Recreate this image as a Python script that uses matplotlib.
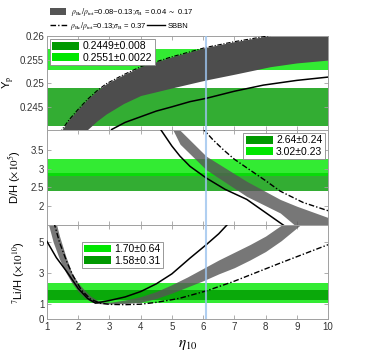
import matplotlib
matplotlib.use("Agg")
import matplotlib.pyplot as plt
from matplotlib.patches import Patch
from matplotlib.lines import Line2D

plt.rcParams['font.family'] = ['Liberation Sans', 'DejaVu Sans']
plt.rcParams['mathtext.fontset'] = 'stix'

# ---- data ----
eta_obs = 6.1

# Y_p panel
yp_sbbn_eta = [3.07, 3.5, 4.0, 4.5, 5.0, 5.58, 6.1, 7.0, 7.93, 9.0, 10.0]
yp_sbbn = [0.2402, 0.2417, 0.2429, 0.2441, 0.2450, 0.2461, 0.2468, 0.2483, 0.2496, 0.2506, 0.2513]
yp_band_eta = [1.4, 1.7, 2.0, 2.3, 2.6, 2.9, 3.45, 4.0, 5.0, 6.1, 7.0, 8.15, 9.0, 10.0]
yp_band_hi = [0.2394, 0.2422, 0.2445, 0.2466, 0.2484, 0.2499, 0.2518, 0.2535, 0.2556, 0.2576, 0.2588, 0.2601, 0.2610, 0.2618]
yp_band_lo = [0.2330, 0.2360, 0.2385, 0.2402, 0.2420, 0.2435, 0.2457, 0.2474, 0.2490, 0.2507, 0.2519, 0.2535, 0.2543, 0.2549]
yp_obs = [(0.2449, 0.0040, '0.2449±0.008', 'dark'), (0.2551, 0.0022, '0.2551±0.0022', 'light')]

# D/H panel
dh_sbbn_eta = [4.55, 5.0, 5.26, 5.58, 6.1, 6.7, 7.4, 8.0, 8.6]
dh_sbbn = [4.15, 3.6, 3.33, 3.06, 2.75, 2.45, 2.18, 1.83, 1.48]
dh_dash_eta = [5.95, 6.3, 6.65, 7.0, 7.4, 8.0, 8.47, 9.2, 10.0]
dh_dash = [4.1, 3.78, 3.5, 3.25, 3.02, 2.68, 2.40, 2.1, 1.88]
dh_band_eta = [4.9, 5.26, 6.1, 7.4, 8.47, 9.0, 10.0]
dh_band_lo = [4.25, 3.65, 2.97, 2.26, 1.82, 1.45, 1.2]
dh_band_hi = [4.7, 4.02, 3.33, 2.66, 2.18, 2.0, 1.70]
dh_obs = [(2.64, 0.24, '2.64±0.24', 'dark'), (3.02, 0.23, '3.02±0.23', 'light')]

# Li panel
li_sbbn_eta = [1.0, 1.3, 1.63, 2.0, 2.3, 2.55, 3.0, 3.5, 4.0, 4.5, 5.0, 5.58, 6.1, 6.5, 6.8]
li_sbbn = [5.05, 4.0, 3.1, 2.0, 1.35, 1.05, 1.22, 1.45, 1.8, 2.3, 2.95, 3.97, 4.84, 5.55, 6.2]
li_dash_eta = [1.22, 1.4, 1.64, 1.84, 2.1, 2.4, 2.7, 3.0, 3.5, 4.0, 4.5, 5.0, 5.26, 6.1, 6.97, 8.47, 10.0]
li_dash = [6.3, 5.0, 3.7, 2.8, 1.9, 1.3, 1.05, 0.97, 0.95, 0.98, 1.1, 1.27, 1.37, 1.84, 2.45, 3.65, 4.84]
li_band_eta = [1.0, 1.2, 1.4, 1.6, 1.8, 2.0, 2.2, 2.4, 2.6, 2.8, 3.0, 3.5, 4.0, 4.5, 5.0, 5.5, 6.0, 6.5, 7.0, 7.5, 8.0, 8.5, 9.1]
li_band_lo = [6.5, 5.0, 3.9, 3.05, 2.35, 1.8, 1.4, 1.15, 1.03, 1.0, 1.0, 1.02, 1.1, 1.35, 1.7, 2.1, 2.5, 2.95, 3.35, 3.85, 4.4, 5.1, 6.1]
li_band_hi = [8.0, 7.0, 5.4, 4.1, 3.0, 2.35, 1.9, 1.5, 1.25, 1.12, 1.1, 1.25, 1.47, 1.8, 2.25, 2.75, 3.3, 3.85, 4.35, 4.85, 5.4, 6.1, 7.0]
li_obs = [(1.70, 0.64, '1.70±0.64', 'light'), (1.58, 0.31, '1.58±0.31', 'dark')]

greens = {'dark': '#009900', 'light': '#00e600'}
dashdot = (0, (4, 1.5, 1, 1.5))
spine_col = '#a0a0a0'

fig = plt.figure(figsize=(3.71, 3.6), dpi=100)
L, W = 47 / 371, 281 / 371
ax1 = fig.add_axes([L, 1 - 129.5 / 360, W, 93.5 / 360])
ax2 = fig.add_axes([L, 1 - 225 / 360, W, 95.5 / 360])
ax3 = fig.add_axes([L, 1 - 319.3 / 360, W, 94.3 / 360])


def draw_obs(ax, obs, **leg_kw):
    handles = []
    for c, e, lab, shade in obs:
        ax.axhspan(c - e, c + e, color=greens[shade], alpha=0.8, lw=0, zorder=1)
        handles.append(Patch(facecolor=greens[shade], edgecolor='none', label=lab))
    leg = ax.legend(handles=handles, fontsize=7.5, handlelength=2.6, handleheight=0.8,
                    handletextpad=0.3, labelspacing=0.15, borderpad=0.25,
                    fancybox=False, framealpha=1, edgecolor='#888888', **leg_kw)
    leg.get_frame().set_linewidth(0.6)
    leg.set_zorder(10)


# top: Y_p
ax1.fill_between(yp_band_eta, yp_band_lo, yp_band_hi, color='#4d4d4d', lw=0, zorder=2)
ax1.plot(yp_band_eta, yp_band_hi, color='black', ls=dashdot, lw=0.8, zorder=3)
ax1.plot(yp_sbbn_eta, yp_sbbn, color='black', lw=1.1, zorder=3)
draw_obs(ax1, yp_obs, loc='upper left', borderaxespad=0.25)
ax1.set_ylim(0.2402, 0.26)
ax1.set_yticks([0.245, 0.25, 0.255, 0.26])
ax1.set_yticklabels(['0.245', '0.25', '0.255', '0.26'])
ax1.set_ylabel(r'Y$_{\rm p}$', fontsize=8)

# middle: D/H
ax2.fill_between(dh_band_eta, dh_band_lo, dh_band_hi, color='#555555', alpha=0.8, lw=0, zorder=2)
ax2.plot(dh_dash_eta, dh_dash, color='black', ls=dashdot, lw=1.0, zorder=3)
ax2.plot(dh_sbbn_eta, dh_sbbn, color='black', lw=1.1, zorder=3)
draw_obs(ax2, dh_obs, loc='upper right', borderaxespad=0.3)
ax2.set_ylim(1.5, 4.04)
ax2.set_yticks([2, 2.5, 3, 3.5])
ax2.set_yticklabels(['2', '2.5', '3', '3.5'])
ax2.set_ylabel(r'D/H ($\times 10^5$)', fontsize=8)

# bottom: Li
ax3.fill_between(li_band_eta, li_band_lo, li_band_hi, color='#555555', alpha=0.8, lw=0, zorder=2)
ax3.plot(li_dash_eta, li_dash, color='black', ls=dashdot, lw=1.0, zorder=3)
ax3.plot(li_sbbn_eta, li_sbbn, color='black', lw=1.1, zorder=3)
draw_obs(ax3, li_obs, loc='upper left', bbox_to_anchor=(0.123, 0.825), borderaxespad=0)
ax3.set_ylim(0, 6.12)
ax3.set_yticks([0, 1, 3, 5])
ax3.set_yticklabels(['0', '1', '3', '5'])
ax3.set_ylabel(r'$^7$Li/H ($\times 10^{10}$)', fontsize=8)
ax3.set_xlabel(r'$\eta_{10}$', fontsize=11)

for ax in (ax1, ax2, ax3):
    ax.set_xlim(1, 10)
    ax.set_xticks(range(1, 11))
    ax.axvline(eta_obs, color='#9cc3ee', lw=1.5, alpha=0.8, zorder=4)
    ax.tick_params(direction='in', top=True, right=True, length=3, width=0.6,
                   color=spine_col, labelsize=7, labelcolor='#333333', pad=2)
    for s in ax.spines.values():
        s.set_color(spine_col)
        s.set_linewidth(0.7)
for ax in (ax1, ax2):
    ax.tick_params(labelbottom=False)
ax1.yaxis.set_label_coords(-0.105, 0.5)
ax2.yaxis.set_label_coords(-0.085, 0.5)
ax3.yaxis.set_label_coords(-0.07, 0.5)

# legend above the panels
fig.legend(handles=[Patch(facecolor='#555555', edgecolor='none',
                          label=r'$\rho_{\rm Bc}/\rho_{\rm tot}$=0.08~0.13;$\sigma_{\rm B}$ = 0.04 $\sim$ 0.17')],
           loc='upper left', bbox_to_anchor=(45 / 371, 1 - 1.5 / 360), fontsize=5.5,
           handlelength=2.2, handleheight=0.9, handletextpad=0.6, frameon=False, borderpad=0.1)
fig.legend(handles=[Line2D([], [], color='black', ls=dashdot, lw=1.0,
                           label=r'$\rho_{\rm Bc}/\rho_{\rm tot}$=0.13;$\sigma_{\rm B}$ = 0.37'),
                    Line2D([], [], color='black', lw=1.0, label='SBBN')],
           loc='upper left', bbox_to_anchor=(45 / 371, 1 - 15.5 / 360), fontsize=5.5, ncol=2,
           handlelength=2.3, handletextpad=0.4, columnspacing=0.0, frameon=False, borderpad=0.1)

fig.savefig('out.png', dpi=100)
